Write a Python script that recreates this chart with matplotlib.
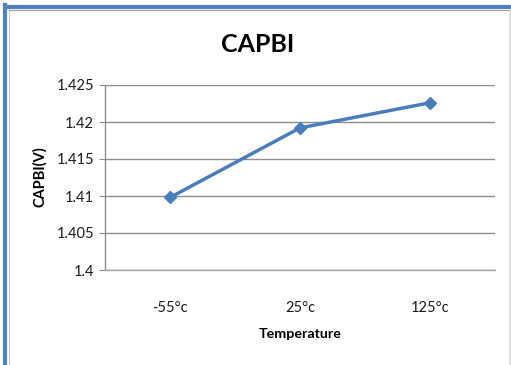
import matplotlib
matplotlib.use("Agg")
import matplotlib.pyplot as plt
from matplotlib.lines import Line2D
import numpy as np

# CAPBI voltage over temperature
temps = ["-55°c", "25°c", "125°c"]
capbi_v = [1.4098, 1.4192, 1.4226]
yticks = [1.4, 1.405, 1.41, 1.415, 1.42, 1.425]
ytick_labels = ["1.4", "1.405", "1.41", "1.415", "1.42", "1.425"]

plt.rcParams["font.family"] = ["Lato", "DejaVu Sans"]

W, H = 511, 365
fig = plt.figure(figsize=(W / 100, H / 100), dpi=100)

def px(x, y):
    return x / W, 1 - y / H

# chart frame: blue outline on the left and top, faint grey on the right
blue = "#4F81BD"
fig.add_artist(Line2D([5 / W, 5 / W], [0, 1 - 5 / H], color=blue, lw=3.0, transform=fig.transFigure))
fig.add_artist(Line2D([5 / W, 1], [1 - 7 / H, 1 - 7 / H], color=blue, lw=3.0, transform=fig.transFigure))
fig.add_artist(Line2D([8.5 / W, 8.5 / W], [0, 1 - 9.5 / H], color="#c8c8c8", lw=0.8, transform=fig.transFigure))
fig.add_artist(Line2D([8.5 / W, 1], [1 - 9.5 / H, 1 - 9.5 / H], color="#a0a0a0", lw=0.8, transform=fig.transFigure))
fig.add_artist(Line2D([509.5 / W, 509.5 / W], [0, 1 - 9.5 / H], color="#d8d8d8", lw=1.2, transform=fig.transFigure))

left, top = px(105, 85)
right, bottom = px(495, 270)
ax = fig.add_axes([left, bottom, right - left, top - bottom])

x = np.arange(len(temps))
ax.plot(x, capbi_v, color="#4A7EBB", lw=2.5, marker="D", markersize=6.5,
        markeredgecolor="#4A7EBB", markerfacecolor="#4A7EBB", zorder=3)

ax.set_xlim(-0.5, len(temps) - 0.5)
ax.set_ylim(1.4, 1.425)
ax.set_yticks(yticks)
ax.set_yticklabels(ytick_labels)
ax.set_xticks(x)
ax.set_xticklabels(temps)

grid_c = "#8c8c8c"
ax.yaxis.grid(True, color=grid_c, lw=1.0)
ax.set_axisbelow(True)
for s in ["top", "right"]:
    ax.spines[s].set_visible(False)
ax.spines["left"].set_color(grid_c)
ax.spines["bottom"].set_color("#a6a6a6")
ax.spines["left"].set_linewidth(1.0)
ax.spines["bottom"].set_linewidth(1.0)

ax.tick_params(axis="y", length=4, color=grid_c, labelsize=10.5, pad=4, labelcolor="#1a1a1a")
ax.tick_params(axis="x", length=0, labelsize=10.5, pad=22, labelcolor="#1a1a1a")

fig.text(*px(258, 45), "CAPBI", ha="center", va="center", fontsize=18, fontweight="bold")
fig.text(*px(40, 177), "CAPBI(V)", ha="center", va="center", rotation=90, fontsize=10.5, fontweight="bold")
fig.text(*px(300, 334), "Temperature", ha="center", va="center", fontsize=10.3, fontweight="bold")

fig.savefig("out.png", dpi=100)
